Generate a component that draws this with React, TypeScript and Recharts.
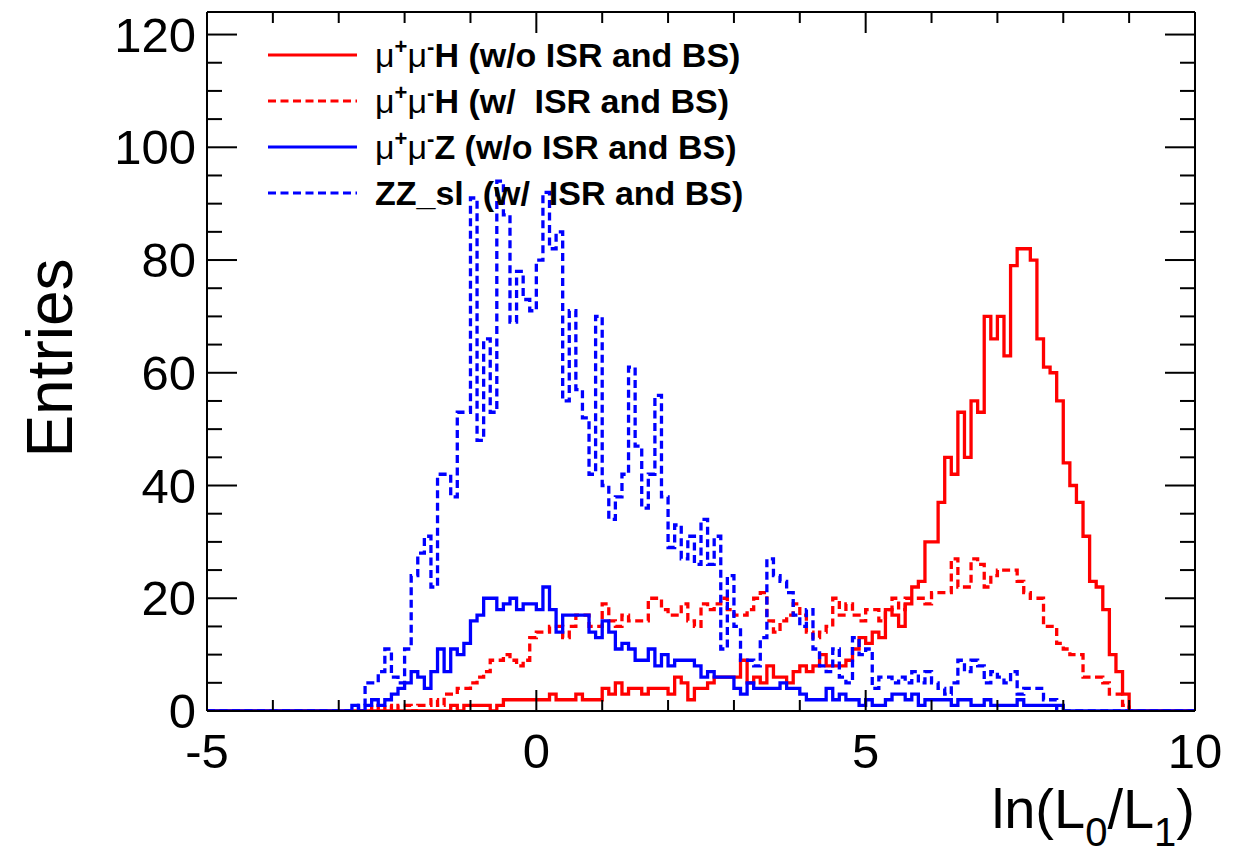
import { LineChart, Line, XAxis, YAxis, Legend } from "recharts";

// histogram binning: 150 bins of 0.1 from -5 to 10
const N_BINS = 150;
const X_MIN = -5;
const BIN_W = 0.1;

const xTicks = [-5, -4, -3, -2, -1, 0, 1, 2, 3, 4, 5, 6, 7, 8, 9, 10];
const yTicks = [0, 5, 10, 15, 20, 25, 30, 35, 40, 45, 50, 55, 60, 65, 70, 75, 80, 85, 90, 95, 100, 105, 110, 115, 120];

// bin contents, each list starts at the given bin index (bins outside are empty)
const hNoIsrStart = 36;
const hNoIsr = [
  0, 1, 0, 1, 1, 1, 1, 0, 1, 2, 2, 2, 2, 2, 2, 2, 3, 2, 2, 2, 3, 2, 2, 2, 4, 3, 5, 3, 4, 4,
  3, 4, 4, 4, 3, 6, 5, 2, 4, 4, 5, 6, 6, 6, 6, 9, 5, 6, 5, 8, 6, 6, 5, 7, 8, 7, 8, 10, 8, 8,
  8, 9, 11, 13, 12, 14, 13, 18, 17, 15, 19, 22, 23, 30, 30, 37, 45, 42, 53, 45, 55, 53, 70, 66, 70, 63, 79, 82, 82, 80,
  66, 61, 60, 55, 44, 40, 37, 31, 23, 22, 18, 10, 7, 3,
];

const hIsrStart = 24;
const hIsr = [
  0, 1, 0, 1, 0, 1, 1, 0, 1, 1, 2, 1, 3, 3, 4, 4, 5, 6, 7, 9, 9, 10, 9, 8, 9, 13, 14, 14, 15, 15,
  13, 15, 17, 17, 15, 15, 19, 16, 15, 17, 16, 16, 16, 20, 20, 18, 17, 17, 19, 16, 15, 19, 18, 19, 20, 18, 17, 17, 18, 20,
  21, 16, 14, 16, 17, 19, 17, 14, 13, 14, 15, 20, 17, 19, 17, 16, 18, 18, 16, 18, 20, 18, 20, 20, 20, 19, 21, 21, 21, 27,
  22, 22, 27, 26, 22, 24, 25, 25, 25, 23, 21, 20, 20, 15, 15, 12, 11, 10, 10, 6, 6, 6, 5, 3, 3, 1,
];

const zNoIsrStart = 21;
const zNoIsr = [
  0, 1, 0, 1, 2, 1, 2, 3, 4, 5, 7, 6, 4, 7, 11, 7, 11, 10, 12, 16, 17, 20, 20, 18, 19, 20, 18, 19, 19, 18,
  22, 18, 14, 17, 17, 17, 17, 14, 13, 16, 14, 11, 12, 11, 9, 9, 11, 8, 10, 8, 9, 9, 9, 8, 6, 7, 6, 6, 6, 4,
  3, 5, 4, 4, 4, 4, 5, 4, 4, 3, 2, 2, 2, 4, 2, 3, 2, 2, 1, 2, 1, 1, 2, 3, 3, 2, 3, 1, 2, 2,
  2, 2, 1, 2, 2, 1, 1, 2, 1, 1, 1, 1, 2, 1, 1, 1, 1, 1, 1,
];

const zzIsrStart = 22;
const zzIsr = [
  0, 1, 5, 5, 7, 11, 6, 5, 11, 24, 28, 31, 22, 42, 42, 38, 53, 53, 91, 48, 66, 53, 94, 88, 69, 78, 73, 71, 80, 92,
  82, 85, 55, 71, 57, 52, 42, 70, 40, 34, 38, 42, 61, 47, 36, 42, 56, 38, 29, 33, 27, 31, 26, 34, 26, 31, 11, 24, 15, 9,
  9, 8, 13, 27, 24, 23, 21, 17, 15, 18, 11, 8, 7, 11, 6, 5, 13, 10, 11, 4, 6, 6, 5, 6, 5, 7, 5, 7, 5, 4,
  3, 5, 9, 7, 9, 8, 5, 7, 6, 5, 7, 3, 4, 4, 4, 2, 2,
];

function place(start: number, vals: number[]) {
  const out = new Array(N_BINS).fill(0);
  vals.forEach((v, i) => {
    out[start + i] = v;
  });
  return out;
}

const DASH = "8 4.5";

const series = [
  { key: "hNoIsr", color: "#ff0000", dash: undefined, values: place(hNoIsrStart, hNoIsr) },
  { key: "hIsr", color: "#ff0000", dash: DASH, values: place(hIsrStart, hIsr) },
  { key: "zNoIsr", color: "#0000ff", dash: undefined, values: place(zNoIsrStart, zNoIsr) },
  { key: "zzIsr", color: "#0000ff", dash: DASH, values: place(zzIsrStart, zzIsr) },
];

// one row per bin edge, the last edge repeats the last bin so the step closes at x=10
const rows: any[] = [];
for (let k = 0; k <= N_BINS; k++) {
  const j = Math.min(k, N_BINS - 1);
  const row: any = { x: +(X_MIN + k * BIN_W).toFixed(1) };
  series.forEach((s) => (row[s.key] = s.values[j]));
  rows.push(row);
}

const FONT = "'Liberation Sans', Arial, Helvetica, sans-serif";
const axisLine = { stroke: "#000", strokeWidth: 2 };

function BottomTick(props: any) {
  const { x, y, payload } = props;
  const major = payload.value % 5 === 0;
  return (
    <g>
      <line x1={x} x2={x} y1={y} y2={y - (major ? 21 : 11)} stroke="#000" strokeWidth={2} />
      {major && (
        <text x={x} y={y + 57} textAnchor="middle" fontSize={49} fontFamily={FONT} fill="#000">
          {payload.value}
        </text>
      )}
    </g>
  );
}

function TopTick(props: any) {
  const { x, y, payload } = props;
  const major = payload.value % 5 === 0;
  return <line x1={x} x2={x} y1={y} y2={y + (major ? 21 : 11)} stroke="#000" strokeWidth={2} />;
}

function LeftTick(props: any) {
  const { x, y, payload } = props;
  const major = payload.value % 20 === 0;
  return (
    <g>
      <line x1={x} x2={x + (major ? 30 : 15)} y1={y} y2={y} stroke="#000" strokeWidth={2} />
      {major && (
        <text x={x - 11} y={y + 17} textAnchor="end" fontSize={49} fontFamily={FONT} fill="#000">
          {payload.value}
        </text>
      )}
    </g>
  );
}

function RightTick(props: any) {
  const { x, y, payload } = props;
  const major = payload.value % 20 === 0;
  return <line x1={x} x2={x - (major ? 30 : 15)} y1={y} y2={y} stroke="#000" strokeWidth={2} />;
}

const legendRows = [
  { pre: true, label: "H (w/o ISR and BS)", color: "#ff0000", dash: undefined },
  { pre: true, label: "H (w/  ISR and BS)", color: "#ff0000", dash: DASH },
  { pre: true, label: "Z (w/o ISR and BS)", color: "#0000ff", dash: undefined },
  { pre: false, label: "ZZ_sl  (w/  ISR and BS)", color: "#0000ff", dash: DASH },
];

function renderLegend() {
  return (
    <svg width={540} height={190} style={{ overflow: "visible" }}>
      {legendRows.map((r, i) => {
        const cy = 25 + i * 46;
        return (
          <g key={i}>
            <line x1={13} x2={102} y1={cy} y2={cy} stroke={r.color} strokeWidth={3} strokeDasharray={r.dash} />
            <text x={120} y={cy + 12} fontSize={34} fontWeight="bold" fontFamily={FONT} fill="#000" style={{ whiteSpace: "pre" }}>
              {r.pre ? (
                <>
                  <tspan fontWeight="normal">μ</tspan>
                  <tspan fontSize={22} dy={-13}>+</tspan>
                  <tspan fontWeight="normal" dy={13}>μ</tspan>
                  <tspan fontSize={22} dy={-13}>-</tspan>
                  <tspan dy={13}>{r.label}</tspan>
                </>
              ) : (
                r.label
              )}
            </text>
          </g>
        );
      })}
    </svg>
  );
}

export default function App() {
  return (
    <div style={{ position: "absolute", left: 0, top: 0, width: 1252, height: 853, background: "#fff", fontFamily: FONT }}>
      <LineChart width={1252} height={853} data={rows} margin={{ top: 11, right: 56, bottom: 0, left: 0 }}>
        <XAxis
          xAxisId="b"
          dataKey="x"
          type="number"
          domain={[-5, 10]}
          ticks={xTicks}
          interval={0}
          tick={<BottomTick />}
          tickLine={false}
          tickSize={0}
          tickMargin={0}
          height={142}
          axisLine={axisLine}
          allowDataOverflow
        />
        <XAxis
          xAxisId="t"
          orientation="top"
          dataKey="x"
          type="number"
          domain={[-5, 10]}
          ticks={xTicks}
          interval={0}
          tick={<TopTick />}
          tickLine={false}
          tickSize={0}
          tickMargin={0}
          height={1}
          axisLine={axisLine}
          allowDataOverflow
        />
        <YAxis
          yAxisId="l"
          type="number"
          domain={[0, 124]}
          ticks={yTicks}
          interval={0}
          tick={<LeftTick />}
          tickLine={false}
          tickSize={0}
          tickMargin={0}
          width={207}
          axisLine={axisLine}
          allowDataOverflow
        />
        <YAxis
          yAxisId="r"
          orientation="right"
          type="number"
          domain={[0, 124]}
          ticks={yTicks}
          interval={0}
          tick={<RightTick />}
          tickLine={false}
          tickSize={0}
          tickMargin={0}
          width={1}
          axisLine={axisLine}
          allowDataOverflow
        />
        {series.map((s) => (
          <Line
            key={s.key}
            xAxisId="b"
            yAxisId="l"
            type="stepAfter"
            dataKey={s.key}
            stroke={s.color}
            strokeWidth={3.3}
            strokeDasharray={s.dash}
            dot={false}
            activeDot={false}
            isAnimationActive={false}
          />
        ))}
        <Legend
          layout="horizontal"
          verticalAlign="middle"
          align="center"
          content={renderLegend}
          wrapperStyle={{ left: 255, top: 30, width: 540, height: 190 }}
        />
      </LineChart>
      <svg width={1252} height={853} style={{ position: "absolute", left: 0, top: 0, pointerEvents: "none" }}>
        <text transform="translate(72,358) rotate(-90)" textAnchor="middle" fontSize={64} fontFamily={FONT} fill="#000">
          Entries
        </text>
        <text x={1195} y={828} textAnchor="end" fontSize={56} fontFamily={FONT} fill="#000">
          ln(L<tspan fontSize={40} dy={18}>0</tspan>
          <tspan dy={-18}>/L</tspan>
          <tspan fontSize={40} dy={18}>1</tspan>
          <tspan dy={-18}>)</tspan>
        </text>
      </svg>
    </div>
  );
}
